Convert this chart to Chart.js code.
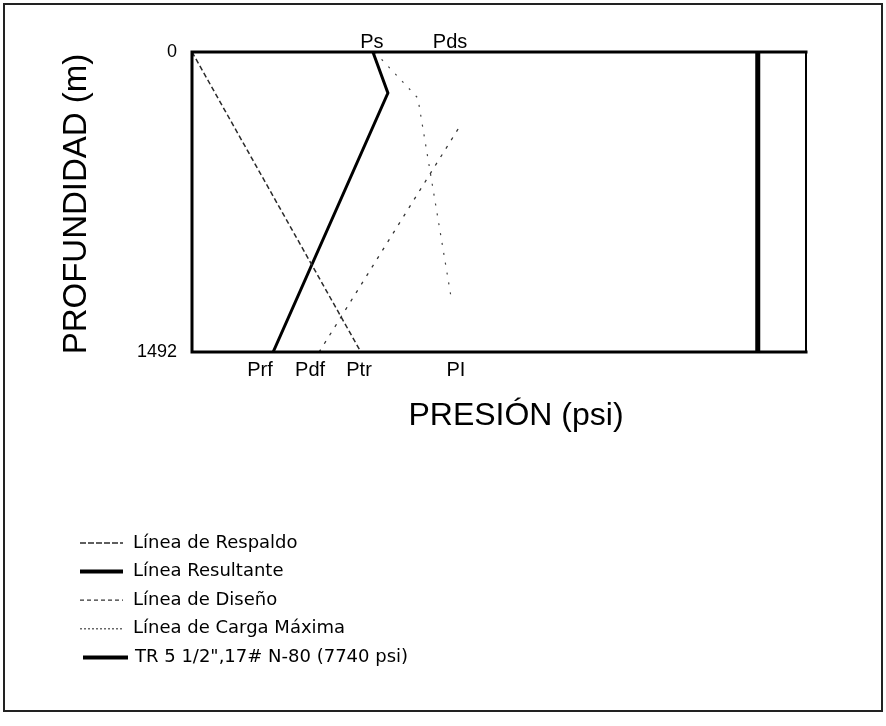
<!DOCTYPE html>
<html>
<head>
<meta charset="utf-8">
<script src="https://cdn.jsdelivr.net/npm/chart.js@4/dist/chart.umd.min.js"></script>
<style>
  html, body { margin: 0; padding: 0; background: #fff; }
  #wrap { position: relative; width: 886px; height: 726px; }
  #frame { position: absolute; left: 3px; top: 3px; width: 876px; height: 705px; border: 2px solid #222; pointer-events: none; }
  canvas { position: absolute; left: 0; top: 0; }
</style>
</head>
<body>
<div id="wrap">
  <canvas id="c" width="886" height="726"></canvas>
  <div id="frame"></div>
</div>
<script>
// Casing burst design: pressure (psi) against depth (m)
const depthTicks = [0, 1492];

const respaldoPressure = [0, 2310];
const respaldoDepth = [0, 1492];

const resultantePressure = [2475, 2680, 1110];
const resultanteDepth = [0, 204, 1492];

const disenoPressure = [3640, 1740];
const disenoDepth = [383, 1492];

const cargaPressure = [2500, 3090, 3555];
const cargaDepth = [0, 229, 1243];

const trPressure = [7740, 7740];
const trDepth = [0, 1492];

const seriesNames = [
  'Línea de Respaldo',
  'Línea Resultante',
  'Línea de Diseño',
  'Línea de Carga Máxima',
  'TR 5 1/2",17# N-80 (7740 psi)'
];

const topMarkNames = ['Ps', 'Pds'];
const topMarkPressure = [2460, 3530];
const bottomMarkNames = ['Prf', 'Pdf', 'Ptr', 'PI'];
const bottomMarkPressure = [930, 1615, 2285, 3610];

const xTitle = 'PRESIÓN (psi)';
const yTitle = 'PROFUNDIDAD (m)';

function pts(xs, ys) { return xs.map((x, i) => ({ x: x, y: ys[i] })); }

const FONT = "'Liberation Sans', Arial, sans-serif";
const LEGEND_FONT = "'DejaVu Sans', sans-serif";

const datasets = [
  { label: seriesNames[0], data: pts(respaldoPressure, respaldoDepth), borderColor: '#2a2a2a', borderWidth: 1.5, borderDash: [5, 3] },
  { label: seriesNames[1], data: pts(resultantePressure, resultanteDepth), borderColor: '#000', borderWidth: 3 },
  { label: seriesNames[2], data: pts(disenoPressure, disenoDepth), borderColor: '#333', borderWidth: 1.3, borderDash: [3, 7] },
  { label: seriesNames[3], data: pts(cargaPressure, cargaDepth), borderColor: '#444', borderWidth: 1.2, borderDash: [2, 8] },
  { label: seriesNames[4], data: pts(trPressure, trDepth), borderColor: '#000', borderWidth: 5 }
];
datasets.forEach(d => { d.pointRadius = 0; d.fill = false; d.tension = 0; });

const decorations = {
  id: 'decorations',
  afterDatasetsDraw(chart) {
    const ctx = chart.ctx;
    const a = chart.chartArea;
    const xs = chart.scales.x;
    ctx.save();
    // plot frame
    ctx.strokeStyle = '#000';
    ctx.lineCap = 'square';
    ctx.lineWidth = 3;
    ctx.beginPath();
    ctx.moveTo(a.left, a.bottom); ctx.lineTo(a.left, a.top); ctx.lineTo(a.right, a.top);
    ctx.moveTo(a.left, a.bottom); ctx.lineTo(a.right, a.bottom);
    ctx.stroke();
    ctx.lineWidth = 2;
    ctx.beginPath();
    ctx.moveTo(a.right, a.top); ctx.lineTo(a.right, a.bottom);
    ctx.stroke();

    // pressure markers above and below the plot
    ctx.fillStyle = '#000';
    ctx.font = '20px ' + FONT;
    ctx.textAlign = 'center';
    ctx.textBaseline = 'middle';
    topMarkNames.forEach((t, i) => ctx.fillText(t, xs.getPixelForValue(topMarkPressure[i]), a.top - 10));
    bottomMarkNames.forEach((t, i) => ctx.fillText(t, xs.getPixelForValue(bottomMarkPressure[i]), a.bottom + 18));

    // axis titles
    ctx.font = '32px ' + FONT;
    ctx.fillText(xTitle, 516, 416);
    ctx.save();
    ctx.translate(77, (a.top + a.bottom) / 2 + 2);
    ctx.rotate(-Math.PI / 2);
    ctx.font = '33px ' + FONT;
    ctx.fillText(yTitle, 0, 0);
    ctx.restore();

    // legend
    const x0 = 80, x1 = 123, tx = 133, y0 = 543, dy = 28.6;
    ctx.font = '18px ' + LEGEND_FONT;
    ctx.textAlign = 'left';
    chart.data.datasets.forEach((d, i) => {
      const y = y0 + i * dy;
      ctx.save();
      ctx.strokeStyle = d.borderColor;
      ctx.lineWidth = i === 1 || i === 4 ? 4 : d.borderWidth;
      ctx.setLineDash(i === 0 ? [6, 2] : (i === 2 ? [4, 3] : (i === 3 ? [2, 2] : [])));
      ctx.lineCap = 'butt';
      ctx.beginPath();
      ctx.moveTo(x0 + (i === 4 ? 3 : 0), y);
      ctx.lineTo(x1 + (i === 4 ? 5 : 0), y);
      ctx.stroke();
      ctx.restore();
      ctx.fillStyle = '#000';
      ctx.fillText(d.label, tx + (i === 4 ? 2 : 0), y);
    });
    ctx.restore();
  }
};

new Chart(document.getElementById('c'), {
  type: 'line',
  data: { datasets: datasets },
  options: {
    responsive: false,
    animation: false,
    events: [],
    layout: { padding: { left: 0, top: 52, right: 80, bottom: 374 } },
    plugins: { legend: { display: false }, tooltip: { enabled: false } },
    scales: {
      x: {
        type: 'linear', min: 0, max: 8400, display: false
      },
      y: {
        type: 'linear', min: 0, max: 1492, reverse: true,
        grid: { display: false, drawTicks: false },
        border: { display: false },
        afterBuildTicks(scale) { scale.ticks = depthTicks.map(v => ({ value: v })); },
        afterFit(scale) { scale.width = 192; },
        ticks: {
          padding: 15,
          color: '#000',
          font: { family: FONT, size: 18 },
          callback: v => String(v)
        }
      }
    }
  },
  plugins: [decorations]
});
</script>
</body>
</html>
